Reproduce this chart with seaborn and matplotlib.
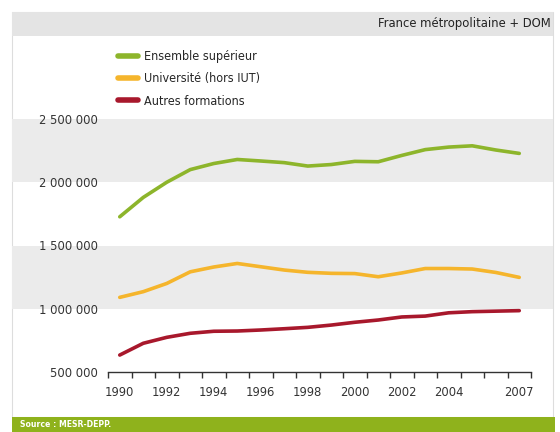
import matplotlib
matplotlib.use("Agg")
import matplotlib.pyplot as plt
import matplotlib.ticker as mticker
from matplotlib.patches import Rectangle
import numpy as np
import pandas as pd
import seaborn as sns

# data (number of students)
years = list(range(1990, 2008))
ensemble = [1727000, 1880000, 2000000, 2100000, 2148000, 2180000, 2168000, 2155000,
            2128000, 2140000, 2165000, 2162000, 2212000, 2258000, 2278000, 2288000,
            2255000, 2228000]
universite = [1090000, 1135000, 1200000, 1292000, 1330000, 1358000, 1332000, 1306000,
              1288000, 1280000, 1278000, 1253000, 1283000, 1318000, 1318000, 1314000,
              1287000, 1248000]
autres = [634000, 727000, 774000, 806000, 822000, 824000, 832000, 842000,
          853000, 871000, 893000, 911000, 935000, 942000, 968000, 977000,
          981000, 985000]

series_names = ["Ensemble supérieur", "Université (hors IUT)", "Autres formations"]
series_colors = ["#8db52b", "#f5b52c", "#a8182c"]
year_labels = [1990, 1992, 1994, 1996, 1998, 2000, 2002, 2004, 2007]
y_ticks = [500000, 1000000, 1500000, 2000000, 2500000]
header = "France métropolitaine + DOM"
source = "Source : MESR-DEPP."

df = pd.DataFrame({
    "annee": years * 3,
    "effectif": ensemble + universite + autres,
    "serie": [n for n in series_names for _ in years],
})

sns.set_style("white")
plt.rcParams["font.family"] = ["DejaVu Sans"]
plt.rcParams["font.stretch"] = "condensed"

W, H = 560, 432
fig = plt.figure(figsize=(W / 100, H / 100), dpi=100)

# plot area in pixels: x 108..531, y 119..372
ax = fig.add_axes([108 / W, 1 - 372 / H, 423 / W, 253 / H])

# outer frame, header band and source band
fig.patches.append(Rectangle((12 / W, 15 / H), 541 / W, 405 / H, transform=fig.transFigure,
                             facecolor="white", edgecolor="#dddddd", lw=0.8, zorder=-5))
fig.patches.append(Rectangle((12 / W, 1 - 36 / H), 541 / W, 24 / H, transform=fig.transFigure,
                             facecolor="#e4e4e4", edgecolor="none", zorder=-4))
fig.patches.append(Rectangle((12 / W, 0), 543 / W, 15 / H, transform=fig.transFigure,
                             facecolor="#8fb21c", edgecolor="none", zorder=-4))

# alternating grey bands behind the lines, spanning the whole frame width
x0 = -(108 - 12) / 423
x1 = 1 + (553 - 531) / 423
for i in range(1, len(y_ticks) - 1, 2):
    ax.axhspan(y_ticks[i], y_ticks[i + 1], xmin=x0, xmax=x1, color="#ebebeb",
               lw=0, clip_on=False, zorder=0)

sns.lineplot(data=df, x="annee", y="effectif", hue="serie", hue_order=series_names,
             palette=dict(zip(series_names, series_colors)), linewidth=2.6,
             solid_capstyle="round", ax=ax, zorder=3)

ax.set_xlim(years[0] - 0.5, years[-1] + 0.5)
ax.set_ylim(y_ticks[0], y_ticks[-1])
ax.patch.set_alpha(0)
ax.set_xlabel("")
ax.set_ylabel("")

for s in ["top", "right", "left"]:
    ax.spines[s].set_visible(False)
ax.spines["bottom"].set_color("#333333")
ax.spines["bottom"].set_linewidth(1)

ax.set_xticks(year_labels)
ax.set_xticklabels([str(y) for y in year_labels])
ax.set_xticks(np.arange(years[0] - 0.5, years[-1] + 1), minor=True)
ax.tick_params(axis="x", which="both", bottom=True)
ax.tick_params(axis="x", which="major", length=0, pad=10, labelsize=9.3, labelcolor="#333333")
ax.tick_params(axis="x", which="minor", length=4, width=1, color="#333333", direction="out")

ax.set_yticks(y_ticks)
ax.yaxis.set_major_formatter(mticker.FuncFormatter(lambda v, p: f"{int(v):,}".replace(",", " ")))
ax.tick_params(axis="y", length=0, pad=7, labelsize=9.3, labelcolor="#333333")

handles, labels = ax.get_legend_handles_labels()
for h in handles:
    h.set_linewidth(4)
ax.legend(handles, labels, loc="upper left", bbox_to_anchor=(113 / W, 1 - 45 / H),
          bbox_transform=fig.transFigure, frameon=False, fontsize=9,
          handlelength=1.6, handletextpad=0.5, labelspacing=0.75, borderaxespad=0)

fig.text(551 / W, 1 - 24 / H, header, ha="right", va="center", fontsize=9.3, color="#222222")
fig.text(20 / W, 7.5 / H, source, ha="left", va="center", fontsize=6.2, color="white",
         fontweight="bold")

fig.savefig("out.png", dpi=100)
